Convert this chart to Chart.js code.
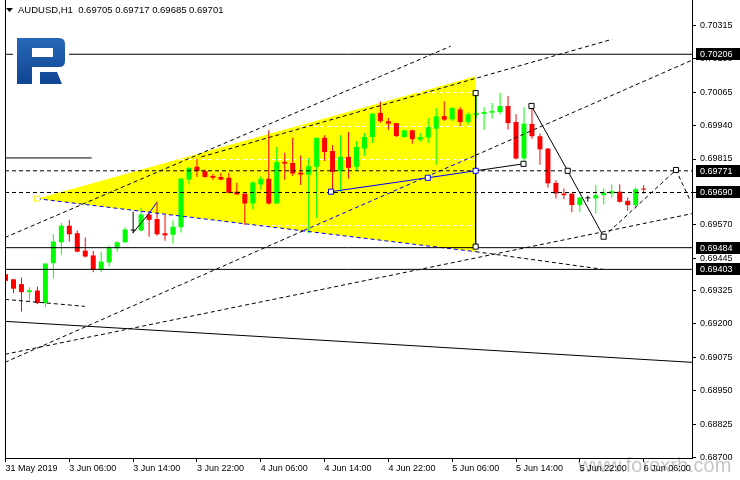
<!DOCTYPE html>
<html>
<head>
<meta charset="utf-8">
<script src="https://cdn.jsdelivr.net/npm/chart.js@4.4.1/dist/chart.umd.min.js"></script>
<style>
  html, body { margin: 0; padding: 0; background: #fff; }
  #c { display: block; }
</style>
</head>
<body>
<canvas id="c" width="740" height="480"></canvas>
<script>
// ─── AUDUSD H1, 31 May 22:00 .. 6 Jun 06:00 ───────────────────────────────
var opens  = [0.69385,0.69366,0.69348,0.69318,0.69324,0.69277,0.69426,0.69504,0.69566,0.69538,
              0.69473,0.69455,0.69401,0.69429,0.69482,0.69504,0.69548,0.69548,0.69608,0.69591,
              0.69538,0.69532,0.69560,0.69738,0.69786,0.69770,0.69752,0.69748,0.69745,0.69693,
              0.69686,0.69649,0.69720,0.69741,0.69649,0.69804,0.69800,0.69764,0.69757,0.69786,
              0.69894,0.69845,0.69770,0.69823,0.69786,0.69854,0.69897,0.69987,0.69956,0.69949,
              0.69897,0.69922,0.69887,0.69895,0.69928,0.69975,0.69963,0.70000,0.69953,0.69979,
              0.69983,0.69988,0.69990,0.70013,0.69953,0.69817,0.69946,0.69900,0.69854,0.69726,
              0.69686,0.69686,0.69643,0.69668,0.69668,0.69680,0.69686,0.69693,0.69659,0.69643,
              0.69705];
var highs  = [0.69388,0.69367,0.69373,0.69336,0.69339,0.69425,0.69534,0.69577,0.69588,0.69548,
              0.69522,0.69472,0.69469,0.69492,0.69509,0.69559,0.69618,0.69633,0.69621,0.69655,
              0.69606,0.69585,0.69742,0.69786,0.69817,0.69776,0.69760,0.69763,0.69763,0.69726,
              0.69686,0.69732,0.69751,0.69922,0.69860,0.69838,0.69894,0.69829,0.69819,0.69894,
              0.69904,0.69866,0.69904,0.69916,0.69881,0.69912,0.69987,0.70030,0.69968,0.69949,
              0.69922,0.69924,0.69912,0.69968,0.70005,0.70031,0.70009,0.70009,0.69990,0.70060,
              0.70009,0.70024,0.70061,0.70050,0.69982,0.70009,0.70013,0.69910,0.69856,0.69736,
              0.69705,0.69686,0.69674,0.69678,0.69718,0.69705,0.69721,0.69721,0.69671,0.69709,
              0.69717];
var lows   = [0.69333,0.69314,0.69246,0.69287,0.69273,0.69262,0.69370,0.69459,0.69507,0.69467,
              0.69447,0.69392,0.69392,0.69414,0.69469,0.69503,0.69538,0.69544,0.69525,0.69529,
              0.69510,0.69500,0.69541,0.69720,0.69748,0.69745,0.69737,0.69736,0.69686,0.69680,
              0.69569,0.69627,0.69701,0.69645,0.69649,0.69738,0.69752,0.69718,0.69538,0.69596,
              0.69808,0.69686,0.69693,0.69742,0.69773,0.69827,0.69875,0.69950,0.69924,0.69897,
              0.69895,0.69872,0.69879,0.69875,0.69794,0.69957,0.69956,0.69937,0.69943,0.69968,
              0.69924,0.69965,0.69982,0.69925,0.69813,0.69798,0.69891,0.69794,0.69709,0.69668,
              0.69665,0.69616,0.69616,0.69655,0.69612,0.69645,0.69670,0.69653,0.69622,0.69630,
              0.69685];
var closes = [0.69360,0.69331,0.69318,0.69325,0.69277,0.69425,0.69507,0.69566,0.69534,0.69469,
              0.69451,0.69401,0.69432,0.69482,0.69504,0.69552,0.69548,0.69608,0.69588,0.69534,
              0.69530,0.69562,0.69742,0.69782,0.69770,0.69748,0.69745,0.69738,0.69689,0.69683,
              0.69649,0.69727,0.69741,0.69649,0.69804,0.69798,0.69761,0.69757,0.69788,0.69894,
              0.69841,0.69767,0.69823,0.69782,0.69860,0.69897,0.69984,0.69956,0.69947,0.69901,
              0.69922,0.69889,0.69897,0.69934,0.69974,0.69962,0.70005,0.69953,0.69982,0.69987,
              0.69990,0.69994,0.70013,0.69949,0.69817,0.69947,0.69900,0.69851,0.69724,0.69686,
              0.69680,0.69643,0.69671,0.69668,0.69680,0.69689,0.69695,0.69655,0.69643,0.69703,
              0.69701];

var headerText = 'AUDUSD,H1  0.69705 0.69717 0.69685 0.69701';

// time axis: bar index -> label
var timeTickIdx = [0, 8, 16, 24, 32, 40, 48, 56, 64, 72, 80];
var timeTickLabels = ['31 May 2019', '3 Jun 06:00', '3 Jun 14:00', '3 Jun 22:00', '4 Jun 06:00',
                      '4 Jun 14:00', '4 Jun 22:00', '5 Jun 06:00', '5 Jun 14:00', '5 Jun 22:00', '6 Jun 06:00'];

// price axis
var priceTicks = [0.70315, 0.70190, 0.70065, 0.69940, 0.69815, 0.69690, 0.69570,
                  0.69445, 0.69325, 0.69200, 0.69075, 0.68950, 0.68825, 0.68700];
var priceTickLabels = ['0.70315', '0.70190', '0.70065', '0.69940', '0.69815', '0.69690', '0.69570',
                       '0.69445', '0.69325', '0.69200', '0.69075', '0.68950', '0.68825', '0.68700'];

// horizontal levels (labelled on the price axis)
var levels = [0.70206, 0.69771, 0.69690, 0.69484, 0.69403];
var levelLabels = ['0.70206', '0.69771', '0.69690', '0.69484', '0.69403'];

// analysis objects, points as [bar index, price]
var triangle      = [[3.94, 0.69667], [58.94, 0.70124], [58.94, 0.69469], [3.94, 0.69667]];
var shortLevel    = [[-0.06, 0.69819], [10.8, 0.69819]];
var chanUpper     = [[-0.06, 0.69522], [55.8, 0.70236]];
var chanUpper2    = [[24.56, 0.69823], [76.06, 0.70262]];
var chanMiddle    = [[-0.06, 0.69056], [37.39, 0.69548], [58.94, 0.69829], [86.06, 0.70184]];
var triBottom     = [[3.94, 0.69667], [58.94, 0.69469], [74.94, 0.69403]];
var chanLower     = [[-0.06, 0.69086], [86.06, 0.69611]];
var shortDashed   = [[-0.06, 0.69291], [9.94, 0.69265]];
var fallingLine   = [[-0.06, 0.69209], [86.06, 0.69056]];
var waveDown      = [[65.94, 0.70013], [70.48, 0.69771], [74.98, 0.69525]];
var waveForecast  = [[74.98, 0.69525], [84.06, 0.69774], [85.8, 0.69663]];
var linkBlack     = [[58.94, 0.69771], [64.94, 0.69797]];
var linkBlue      = [[40.81, 0.69693], [52.94, 0.69745], [58.94, 0.69771]];
var verticalLine  = [[58.94, 0.70061], [58.94, 0.69488]];
var smallWave     = [[16, 0.69540], [17.94, 0.69610], [18.94, 0.69652]];
var anchorsBlack  = [[58.94, 0.70061], [58.94, 0.69488], [64.94, 0.69797], [65.94, 0.70013],
                     [70.48, 0.69771], [74.98, 0.69525], [84.06, 0.69774]];
var anchorsBlue   = [[58.94, 0.69771], [52.94, 0.69745], [40.81, 0.69693]];
var anchorsYellow = [[3.94, 0.69667]];

var X_MIN = -0.0625, X_MAX = 86.0625;
var Y_MIN = 0.686989, Y_MAX = 0.703899;
var FONT = '"Liberation Sans", Arial, sans-serif';

function pts(a) { return a.map(function(p) { return { x: p[0], y: p[1] }; }); }

function lineDs(points, color, dashed, segColors) {
  var ds = {
    type: 'line', data: pts(points), borderColor: color, borderWidth: 1,
    borderDash: dashed ? [4, 3] : [], pointRadius: 0, fill: false, tension: 0, order: 10
  };
  if (segColors) ds.segment = { borderColor: function(c) { return segColors[c.p0DataIndex]; } };
  return ds;
}

function markerDs(points, color, fillColor) {
  return {
    type: 'line', data: pts(points), showLine: false, pointStyle: 'rect', pointRadius: 3.6,
    pointBorderColor: color, pointBackgroundColor: fillColor || '#fff', pointBorderWidth: 1, order: 5
  };
}

var upCol = '#00ff00', dnCol = '#ff0000';
var candleCol = opens.map(function(o, i) {
  if (o === closes[i]) return '#000';
  return closes[i] > o ? upCol : dnCol;
});

var datasets = [];
// 0: triangle (background)
datasets.push({
  type: 'line', data: pts(triangle), borderWidth: 0, borderColor: 'rgba(0,0,0,0)',
  backgroundColor: '#ffff00', fill: 'shape', pointRadius: 0, tension: 0, order: 100
});
// candles
datasets.push({
  type: 'bar', grouped: false, order: 21, barThickness: 1, inflateAmount: 0, borderWidth: 0,
  data: opens.map(function(o, i) { return { x: i, y: [lows[i], highs[i]] }; }),
  backgroundColor: candleCol
});
datasets.push({
  type: 'bar', grouped: false, order: 20, barThickness: 5, inflateAmount: 0, borderWidth: 0, minBarLength: 1,
  data: opens.map(function(o, i) { return { x: i, y: [Math.min(o, closes[i]), Math.max(o, closes[i])] }; }),
  backgroundColor: candleCol
});
// levels
var levelDashed = [false, true, true, false, false];
levels.forEach(function(v, k) {
  datasets.push(lineDs([[X_MIN, v], [X_MAX, v]], '#000', levelDashed[k]));
});
datasets.push(lineDs(shortLevel, '#000', false));
datasets.push(lineDs(chanUpper, '#000', true));
datasets.push(lineDs(chanUpper2, '#000', true));
datasets.push(lineDs(chanMiddle, '#000', true, ['#000', '#0000ff', '#000']));
datasets.push(lineDs(triBottom, '#000', true, ['#0000ff', '#000']));
datasets.push(lineDs(chanLower, '#000', true));
datasets.push(lineDs(shortDashed, '#000', true));
datasets.push(lineDs(fallingLine, '#000', false));
datasets.push(lineDs(waveDown, '#000', false));
datasets.push(lineDs(waveForecast, '#000', true));
datasets.push(lineDs(linkBlack, '#000', false));
datasets.push(lineDs(linkBlue, '#0000ff', false));
datasets.push(lineDs(verticalLine, '#000', false));
datasets.push(lineDs(smallWave, '#000', false, ['#000', '#0000ff']));
datasets.push(markerDs(anchorsBlack, '#000'));
datasets.push(markerDs(anchorsBlue, '#0000ff'));
datasets.push(markerDs(anchorsYellow, '#ffff00'));

function drawLogo(ctx) {
  ctx.fillStyle = '#fff';
  ctx.fillRect(13, 35, 56, 51);
  var g = ctx.createLinearGradient(0, 38, 0, 84);
  g.addColorStop(0, '#2767b8');
  g.addColorStop(1, '#0f4592');
  ctx.fillStyle = g;
  ctx.beginPath();
  ctx.moveTo(17, 38); ctx.lineTo(59, 38);
  ctx.quadraticCurveTo(65, 38, 65, 44);
  ctx.lineTo(65, 61);
  ctx.quadraticCurveTo(65, 67, 59, 67);
  ctx.lineTo(32, 67); ctx.lineTo(32, 84); ctx.lineTo(17, 84);
  ctx.closePath();
  ctx.moveTo(32, 48); ctx.lineTo(32, 57); ctx.lineTo(53, 57); ctx.lineTo(53, 48); ctx.closePath();
  ctx.fill('evenodd');
  ctx.beginPath();
  ctx.moveTo(40, 72); ctx.lineTo(57, 72); ctx.lineTo(62, 84); ctx.lineTo(40, 84);
  ctx.closePath();
  ctx.fill();
}

var overlay = {
  id: 'overlay',
  beforeDraw: function(chart) {
    var ctx = chart.ctx;
    ctx.save();
    ctx.fillStyle = '#fff';
    ctx.fillRect(0, 0, chart.width, chart.height);
    ctx.fillStyle = 'rgba(140,140,140,0.5)';
    ctx.font = '20px ' + FONT;
    ctx.textBaseline = 'alphabetic';
    ctx.fillText('www.forexrb.com', 578, 472);
    ctx.restore();
  },
  afterDatasetDraw: function(chart, args) {
    if (args.index !== 0) return;
    // grid lines show through the yellow fill only
    var ctx = chart.ctx, a = chart.chartArea, y = chart.scales.y, p = args.meta.data;
    ctx.save();
    ctx.beginPath();
    ctx.moveTo(p[0].x, p[0].y); ctx.lineTo(p[1].x, p[1].y); ctx.lineTo(p[2].x, p[2].y);
    ctx.closePath();
    ctx.clip();
    ctx.strokeStyle = '#fff'; ctx.lineWidth = 1; ctx.setLineDash([4, 3]);
    priceTicks.forEach(function(v) {
      var py = Math.round(y.getPixelForValue(v)) + 0.5;
      ctx.beginPath(); ctx.moveTo(a.left, py); ctx.lineTo(a.right, py); ctx.stroke();
    });
    ctx.restore();
  },
  afterDatasetsDraw: function(chart) {
    var ctx = chart.ctx, a = chart.chartArea;
    ctx.save();
    ctx.strokeStyle = '#000'; ctx.lineWidth = 1;
    ctx.beginPath(); ctx.moveTo(a.left + 0.5, 0); ctx.lineTo(a.left + 0.5, a.bottom); ctx.stroke();
    ctx.beginPath(); ctx.moveTo(a.right + 0.5, 0); ctx.lineTo(a.right + 0.5, a.top); ctx.stroke();
    drawLogo(ctx);
    // header
    ctx.fillStyle = '#000';
    ctx.beginPath(); ctx.moveTo(6, 8); ctx.lineTo(13, 8); ctx.lineTo(9.5, 12); ctx.closePath(); ctx.fill();
    ctx.font = '9.5px ' + FONT;
    ctx.textBaseline = 'middle';
    ctx.fillText(headerText, 18, 10.5);
    ctx.restore();
  },
  afterDraw: function(chart) {
    var ctx = chart.ctx, y = chart.scales.y, a = chart.chartArea;
    ctx.save();
    ctx.font = '9px ' + FONT;
    ctx.textBaseline = 'middle';
    levels.forEach(function(v, k) {
      var py = Math.round(y.getPixelForValue(v));
      ctx.fillStyle = '#000';
      ctx.fillRect(a.right + 4, py - 6, 48, 12);
      ctx.fillStyle = '#fff';
      ctx.fillText(levelLabels[k], a.right + 8, py + 0.5);
    });
    ctx.restore();
  }
};

new Chart(document.getElementById('c').getContext('2d'), {
  type: 'bar',
  data: { datasets: datasets },
  options: {
    responsive: false, animation: false, devicePixelRatio: 1, events: [],
    layout: { padding: { left: 3, top: 3, right: 0, bottom: 0 } },
    plugins: { legend: { display: false }, tooltip: { enabled: false } },
    scales: {
      x: {
        type: 'linear', min: X_MIN, max: X_MAX, offset: false, position: 'bottom',
        afterBuildTicks: function(s) { s.ticks = timeTickIdx.map(function(v) { return { value: v }; }); },
        afterFit: function(s) { s.height = 22; s.paddingLeft = 0; s.paddingRight = 0; },
        ticks: {
          autoSkip: false, maxRotation: 0, minRotation: 0, align: 'start', padding: 1, color: '#000',
          font: { family: FONT, size: 9 },
          callback: function(v, i) { return timeTickLabels[i]; }
        },
        grid: { offset: false, drawOnChartArea: false, drawTicks: true, tickLength: 4, color: '#000' },
        border: { display: true, color: '#000' }
      },
      y: {
        type: 'linear', min: Y_MIN, max: Y_MAX, position: 'right',
        afterBuildTicks: function(s) { s.ticks = priceTicks.map(function(v) { return { value: v }; }); },
        afterFit: function(s) { s.width = 48; s.paddingTop = 0; s.paddingBottom = 0; },
        ticks: {
          autoSkip: false, padding: 4, color: '#000', font: { family: FONT, size: 9 },
          callback: function(v, i) { return priceTickLabels[i]; }
        },
        grid: { drawOnChartArea: false, drawTicks: true, tickLength: 4, color: '#000' },
        border: { display: true, color: '#000' }
      }
    }
  },
  plugins: [overlay]
});
</script>
</body>
</html>
